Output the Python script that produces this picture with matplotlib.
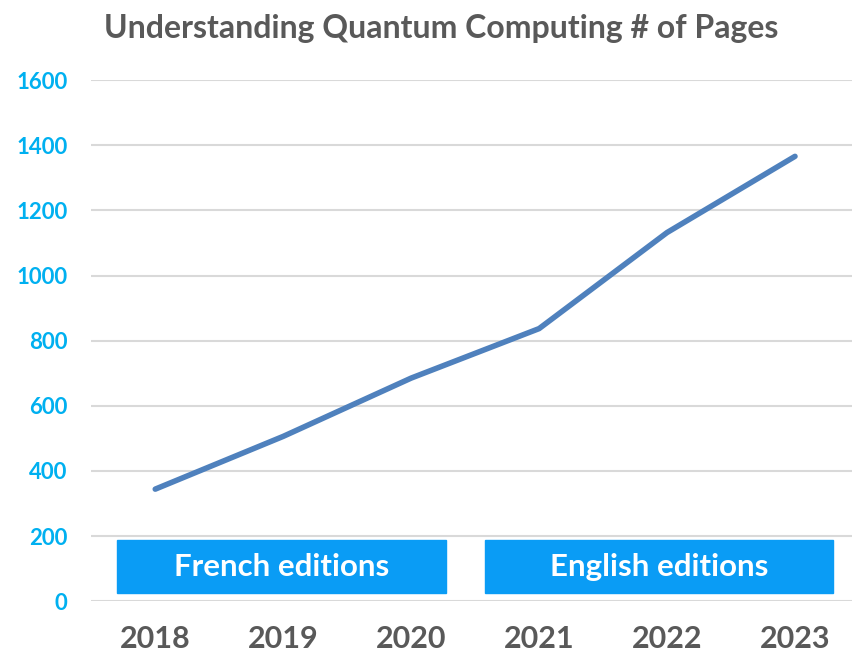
import matplotlib.pyplot as plt
from matplotlib.patches import Rectangle

years = ['2018', '2019', '2020', '2021', '2022', '2023']
pages = [344, 506, 685, 837, 1132, 1366]
yticks = [0, 200, 400, 600, 800, 1000, 1200, 1400, 1600]

# edition bands: (label, x start, x end) in category units
editions = [('French editions', -0.30, 2.27), ('English editions', 2.58, 5.30)]

plt.rcParams['font.family'] = ['Lato', 'DejaVu Sans']

fig = plt.figure(figsize=(8.53, 6.57), dpi=100)
ax = fig.add_axes([0.107, 0.085, 0.9, 0.793])

x = list(range(len(years)))
ax.plot(x, pages, color='#4F81BD', lw=4, solid_capstyle='round', zorder=3)

for label, x0, x1 in editions:
    ax.add_patch(Rectangle((x0, 25), x1 - x0, 162, color='#0A9CF5', zorder=2))
    ax.text((x0 + x1) / 2, 106, label, color='white', fontsize=22.5, fontweight='bold',
            ha='center', va='center', zorder=4)

ax.set_xlim(-0.5, 5.5)
ax.set_ylim(0, 1600)
ax.set_yticks(yticks)
ax.set_xticks(x)
ax.set_xticklabels(years)
ax.grid(axis='y', color='#D9D9D9', lw=1.5, zorder=0)
ax.set_axisbelow(True)
for s in ax.spines.values():
    s.set_visible(False)
ax.tick_params(length=0)
ax.tick_params(axis='x', pad=17, labelsize=22, labelcolor='#595959')
ax.tick_params(axis='y', pad=17, labelsize=16, labelcolor='#00B0F0')
for t in ax.get_xticklabels() + ax.get_yticklabels():
    t.set_fontweight('bold')

fig.text(0.517, 0.957, 'Understanding Quantum Computing # of Pages', ha='center', va='center',
         fontsize=23, fontweight='bold', color='#595959')

fig.savefig('out.png', dpi=100)
